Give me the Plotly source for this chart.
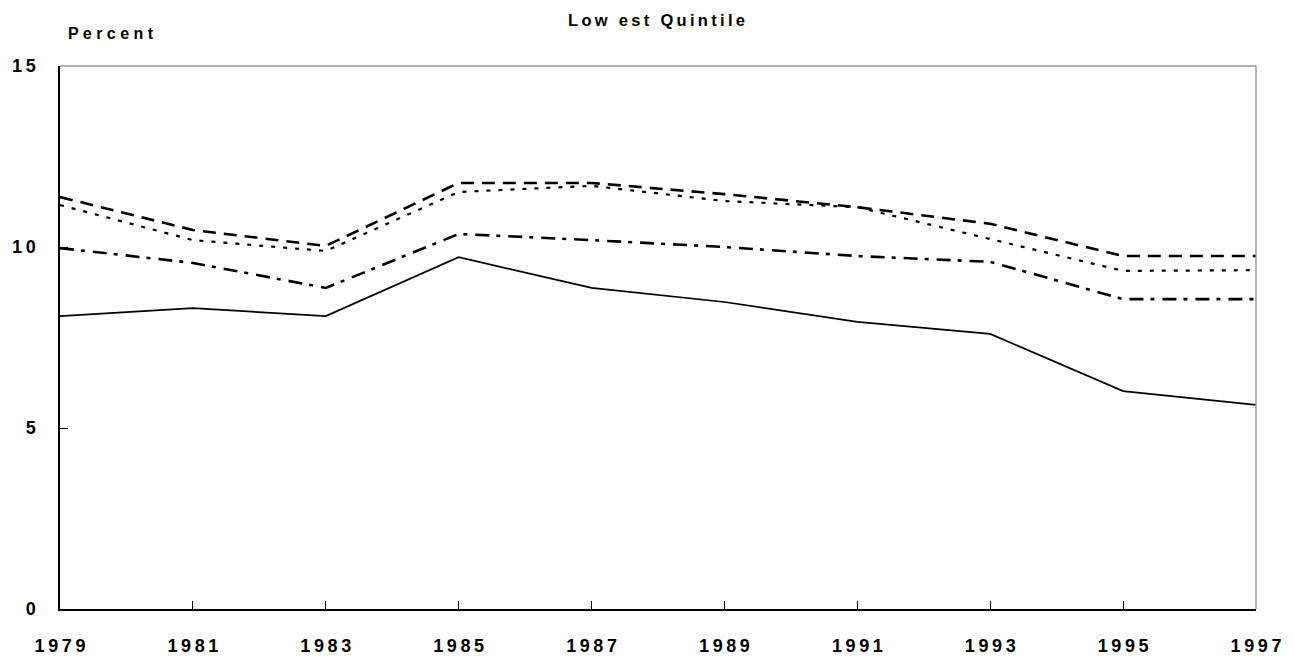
import plotly.graph_objects as go

years = [1979, 1981, 1983, 1985, 1987, 1989, 1991, 1993, 1995, 1997]
series_solid = [8.09, 8.31, 8.09, 9.72, 8.87, 8.48, 7.93, 7.60, 6.02, 5.64]
series_dash = [11.38, 10.47, 10.03, 11.77, 11.77, 11.46, 11.10, 10.64, 9.75, 9.75]
series_dot = [11.16, 10.19, 9.89, 11.52, 11.69, 11.27, 11.10, 10.22, 9.34, 9.36]
series_dashdot = [9.97, 9.56, 8.87, 10.36, 10.19, 10.00, 9.75, 9.59, 8.56, 8.56]

x_ticks = [1979, 1981, 1983, 1985, 1987, 1989, 1991, 1993, 1995, 1997]
y_ticks = [0, 5, 10, 15]

title_text = "Low est Quintile"
ylabel_text = "Percent"

FONT = "Liberation Sans, Arial, sans-serif"
THIN = "\u2009"


def spaced(s, sep=THIN):
    return sep.join(str(s))


fig = go.Figure()
fig.add_trace(go.Scatter(x=years, y=series_solid, mode="lines",
                         line=dict(color="black", width=1.7, dash="solid")))
fig.add_trace(go.Scatter(x=years, y=series_dash, mode="lines",
                         line=dict(color="black", width=2.6, dash="13px,8px")))
fig.add_trace(go.Scatter(x=years, y=series_dot, mode="lines",
                         line=dict(color="black", width=2.2, dash="4px,8px")))
fig.add_trace(go.Scatter(x=years, y=series_dashdot, mode="lines",
                         line=dict(color="black", width=2.6, dash="14px,7px,4px,8px")))

# page body has an 8px margin: figure starts at (8, 8)
fig.update_layout(
    width=1286, height=653,
    margin=dict(l=52, r=38, t=58, b=52, autoexpand=False),
    paper_bgcolor="white", plot_bgcolor="white",
    showlegend=False,
    font=dict(family=FONT, color="black"),
)

fig.update_xaxes(
    range=[1979, 1997], automargin=False,
    tickvals=x_ticks, ticktext=[spaced(v) for v in x_ticks],
    ticks="inside", ticklen=8, tickwidth=1, tickcolor="black",
    showline=True, linecolor="black", linewidth=1.5,
    showgrid=False, zeroline=False,
    tickfont=dict(family=FONT, size=18, weight="bold", color="black"),
    ticklabelstandoff=20,
)
fig.update_yaxes(
    range=[0, 15], automargin=False,
    tickvals=y_ticks, ticktext=[spaced(v) for v in y_ticks],
    ticks="inside", ticklen=8, tickwidth=1, tickcolor="black",
    showline=True, linecolor="black", linewidth=1.5,
    showgrid=False, zeroline=False,
    tickfont=dict(family=FONT, size=18, weight="bold", color="black"),
    ticklabelstandoff=19,
)

# top and right border (gray)
fig.add_shape(type="line", xref="x domain", yref="y domain", x0=0, x1=1, y0=1, y1=1,
              line=dict(color="#999999", width=1.5))
fig.add_shape(type="line", xref="x domain", yref="y domain", x0=1, x1=1, y0=0, y1=1,
              line=dict(color="#999999", width=1.5))

fig.add_annotation(text=spaced(title_text), xref="paper", yref="paper",
                   x=(656 - 60) / (1256 - 60), y=(609 - 20) / (609 - 66),
                   xanchor="center", yanchor="middle", showarrow=False,
                   font=dict(family=FONT, size=16.5, weight="bold", color="black"))
fig.add_annotation(text=spaced(ylabel_text, " "), xref="paper", yref="paper",
                   x=(66 - 60) / (1256 - 60), y=(609 - 33) / (609 - 66),
                   xanchor="left", yanchor="middle", showarrow=False,
                   font=dict(family=FONT, size=16, weight="bold", color="black"))

fig.write_html("out.html")
